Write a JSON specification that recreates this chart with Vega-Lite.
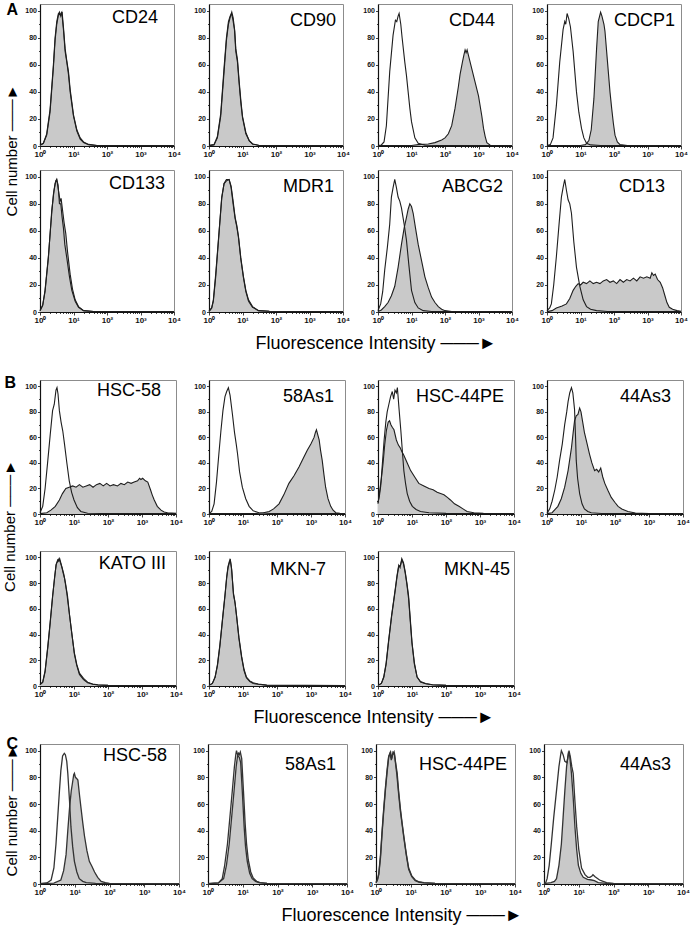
{
"$schema":"https://vega.github.io/schema/vega-lite/v6.json",
"padding":{"left":2,"top":0,"right":0,"bottom":0},
"config":{
 "view":{"stroke":"#8c8c8c","strokeWidth":1},
 "axis":{"grid":false,"domainColor":"#111","domainWidth":1.2,"tickColor":"#111","tickWidth":0.8,"labelFont":"Liberation Sans","labelFontSize":7,"labelFontWeight":"bold","labelColor":"#111","labelOverlap":false,"labelFlush":false,"labelPadding":1,"titleFont":"Liberation Sans"},
 "axisX":{"labelFontSize":8},
 "title":{"font":"Liberation Sans","fontSize":18,"fontWeight":"normal","color":"#000"}
},
"datasets":{"h":[
{"p":"a1","s":"S","x":0,"y":0.5},{"p":"a1","s":"S","x":0.1,"y":2},{"p":"a1","s":"S","x":0.2,"y":8},{"p":"a1","s":"S","x":0.3,"y":25},{"p":"a1","s":"S","x":0.4,"y":58},{"p":"a1","s":"S","x":0.45,"y":78},{"p":"a1","s":"S","x":0.5,"y":90},{"p":"a1","s":"S","x":0.55,"y":97},{"p":"a1","s":"S","x":0.58,"y":99},{"p":"a1","s":"S","x":0.62,"y":96},{"p":"a1","s":"S","x":0.66,"y":99},{"p":"a1","s":"S","x":0.7,"y":88},{"p":"a1","s":"S","x":0.75,"y":72},{"p":"a1","s":"S","x":0.8,"y":63},{"p":"a1","s":"S","x":0.85,"y":55},{"p":"a1","s":"S","x":0.9,"y":42},{"p":"a1","s":"S","x":1,"y":23},{"p":"a1","s":"S","x":1.1,"y":12},{"p":"a1","s":"S","x":1.2,"y":6},{"p":"a1","s":"S","x":1.3,"y":3},{"p":"a1","s":"S","x":1.45,"y":1.2},{"p":"a1","s":"S","x":1.7,"y":0.4},{"p":"a1","s":"S","x":4,"y":0.3},
{"p":"a1","s":"C","x":0,"y":0.5},{"p":"a1","s":"C","x":0.1,"y":2},{"p":"a1","s":"C","x":0.2,"y":9},{"p":"a1","s":"C","x":0.3,"y":27},{"p":"a1","s":"C","x":0.4,"y":60},{"p":"a1","s":"C","x":0.45,"y":80},{"p":"a1","s":"C","x":0.5,"y":92},{"p":"a1","s":"C","x":0.55,"y":98},{"p":"a1","s":"C","x":0.6,"y":97},{"p":"a1","s":"C","x":0.65,"y":99},{"p":"a1","s":"C","x":0.7,"y":86},{"p":"a1","s":"C","x":0.75,"y":70},{"p":"a1","s":"C","x":0.8,"y":62},{"p":"a1","s":"C","x":0.85,"y":53},{"p":"a1","s":"C","x":0.9,"y":40},{"p":"a1","s":"C","x":1,"y":22},{"p":"a1","s":"C","x":1.1,"y":11},{"p":"a1","s":"C","x":1.2,"y":5},{"p":"a1","s":"C","x":1.3,"y":2.5},{"p":"a1","s":"C","x":1.45,"y":1},{"p":"a1","s":"C","x":1.7,"y":0.4},{"p":"a1","s":"C","x":4,"y":0.3},
{"p":"a2","s":"S","x":0,"y":0.3},{"p":"a2","s":"S","x":0.15,"y":1},{"p":"a2","s":"S","x":0.25,"y":6},{"p":"a2","s":"S","x":0.35,"y":22},{"p":"a2","s":"S","x":0.45,"y":55},{"p":"a2","s":"S","x":0.52,"y":78},{"p":"a2","s":"S","x":0.58,"y":90},{"p":"a2","s":"S","x":0.63,"y":95},{"p":"a2","s":"S","x":0.68,"y":99},{"p":"a2","s":"S","x":0.72,"y":95},{"p":"a2","s":"S","x":0.77,"y":85},{"p":"a2","s":"S","x":0.8,"y":72},{"p":"a2","s":"S","x":0.85,"y":64},{"p":"a2","s":"S","x":0.9,"y":48},{"p":"a2","s":"S","x":0.95,"y":34},{"p":"a2","s":"S","x":1,"y":22},{"p":"a2","s":"S","x":1.1,"y":10},{"p":"a2","s":"S","x":1.2,"y":4},{"p":"a2","s":"S","x":1.3,"y":1.5},{"p":"a2","s":"S","x":1.5,"y":0.4},{"p":"a2","s":"S","x":4,"y":0.3},
{"p":"a2","s":"C","x":0,"y":0.3},{"p":"a2","s":"C","x":0.15,"y":1},{"p":"a2","s":"C","x":0.25,"y":7},{"p":"a2","s":"C","x":0.35,"y":24},{"p":"a2","s":"C","x":0.45,"y":58},{"p":"a2","s":"C","x":0.52,"y":80},{"p":"a2","s":"C","x":0.58,"y":92},{"p":"a2","s":"C","x":0.63,"y":96},{"p":"a2","s":"C","x":0.67,"y":98},{"p":"a2","s":"C","x":0.71,"y":94},{"p":"a2","s":"C","x":0.76,"y":86},{"p":"a2","s":"C","x":0.8,"y":70},{"p":"a2","s":"C","x":0.85,"y":62},{"p":"a2","s":"C","x":0.9,"y":46},{"p":"a2","s":"C","x":0.95,"y":32},{"p":"a2","s":"C","x":1,"y":21},{"p":"a2","s":"C","x":1.1,"y":9},{"p":"a2","s":"C","x":1.2,"y":4},{"p":"a2","s":"C","x":1.3,"y":1.5},{"p":"a2","s":"C","x":1.5,"y":0.4},{"p":"a2","s":"C","x":4,"y":0.3},
{"p":"a3","s":"C","x":0,"y":0.3},{"p":"a3","s":"C","x":0.1,"y":0.8},{"p":"a3","s":"C","x":0.18,"y":3},{"p":"a3","s":"C","x":0.25,"y":15},{"p":"a3","s":"C","x":0.35,"y":55},{"p":"a3","s":"C","x":0.45,"y":82},{"p":"a3","s":"C","x":0.52,"y":93},{"p":"a3","s":"C","x":0.56,"y":92},{"p":"a3","s":"C","x":0.6,"y":96},{"p":"a3","s":"C","x":0.63,"y":98},{"p":"a3","s":"C","x":0.68,"y":90},{"p":"a3","s":"C","x":0.72,"y":80},{"p":"a3","s":"C","x":0.8,"y":62},{"p":"a3","s":"C","x":0.85,"y":52},{"p":"a3","s":"C","x":0.9,"y":40},{"p":"a3","s":"C","x":0.95,"y":28},{"p":"a3","s":"C","x":1,"y":18},{"p":"a3","s":"C","x":1.1,"y":6},{"p":"a3","s":"C","x":1.2,"y":2},{"p":"a3","s":"C","x":1.4,"y":0.6},{"p":"a3","s":"C","x":1.8,"y":0.4},{"p":"a3","s":"C","x":4,"y":0.3},
{"p":"a3","s":"S","x":0,"y":0.3},{"p":"a3","s":"S","x":1,"y":0.4},{"p":"a3","s":"S","x":1.2,"y":1},{"p":"a3","s":"S","x":1.5,"y":1.5},{"p":"a3","s":"S","x":1.7,"y":2.5},{"p":"a3","s":"S","x":1.9,"y":4.5},{"p":"a3","s":"S","x":2,"y":6},{"p":"a3","s":"S","x":2.1,"y":9},{"p":"a3","s":"S","x":2.2,"y":15},{"p":"a3","s":"S","x":2.3,"y":28},{"p":"a3","s":"S","x":2.4,"y":44},{"p":"a3","s":"S","x":2.45,"y":53},{"p":"a3","s":"S","x":2.52,"y":62},{"p":"a3","s":"S","x":2.57,"y":68},{"p":"a3","s":"S","x":2.6,"y":71},{"p":"a3","s":"S","x":2.63,"y":69},{"p":"a3","s":"S","x":2.66,"y":71},{"p":"a3","s":"S","x":2.7,"y":67},{"p":"a3","s":"S","x":2.75,"y":62},{"p":"a3","s":"S","x":2.8,"y":57},{"p":"a3","s":"S","x":2.9,"y":47},{"p":"a3","s":"S","x":3,"y":37},{"p":"a3","s":"S","x":3.1,"y":22},{"p":"a3","s":"S","x":3.15,"y":13},{"p":"a3","s":"S","x":3.2,"y":7},{"p":"a3","s":"S","x":3.25,"y":2.5},{"p":"a3","s":"S","x":3.35,"y":0.6},{"p":"a3","s":"S","x":4,"y":0.3},
{"p":"a4","s":"C","x":0,"y":0.3},{"p":"a4","s":"C","x":0.1,"y":1},{"p":"a4","s":"C","x":0.18,"y":6},{"p":"a4","s":"C","x":0.28,"y":30},{"p":"a4","s":"C","x":0.38,"y":62},{"p":"a4","s":"C","x":0.48,"y":86},{"p":"a4","s":"C","x":0.53,"y":92},{"p":"a4","s":"C","x":0.56,"y":90},{"p":"a4","s":"C","x":0.6,"y":98},{"p":"a4","s":"C","x":0.65,"y":94},{"p":"a4","s":"C","x":0.7,"y":88},{"p":"a4","s":"C","x":0.78,"y":70},{"p":"a4","s":"C","x":0.83,"y":55},{"p":"a4","s":"C","x":0.88,"y":40},{"p":"a4","s":"C","x":0.95,"y":25},{"p":"a4","s":"C","x":1.03,"y":13},{"p":"a4","s":"C","x":1.1,"y":6},{"p":"a4","s":"C","x":1.18,"y":2},{"p":"a4","s":"C","x":1.3,"y":0.8},{"p":"a4","s":"C","x":1.6,"y":0.4},{"p":"a4","s":"C","x":4,"y":0.3},
{"p":"a4","s":"S","x":0,"y":0.3},{"p":"a4","s":"S","x":1,"y":0.4},{"p":"a4","s":"S","x":1.15,"y":1},{"p":"a4","s":"S","x":1.25,"y":4},{"p":"a4","s":"S","x":1.32,"y":12},{"p":"a4","s":"S","x":1.4,"y":35},{"p":"a4","s":"S","x":1.48,"y":72},{"p":"a4","s":"S","x":1.53,"y":92},{"p":"a4","s":"S","x":1.58,"y":97},{"p":"a4","s":"S","x":1.6,"y":99},{"p":"a4","s":"S","x":1.64,"y":96},{"p":"a4","s":"S","x":1.7,"y":90},{"p":"a4","s":"S","x":1.73,"y":85},{"p":"a4","s":"S","x":1.78,"y":70},{"p":"a4","s":"S","x":1.83,"y":55},{"p":"a4","s":"S","x":1.88,"y":40},{"p":"a4","s":"S","x":1.93,"y":28},{"p":"a4","s":"S","x":1.98,"y":17},{"p":"a4","s":"S","x":2.03,"y":8},{"p":"a4","s":"S","x":2.1,"y":3},{"p":"a4","s":"S","x":2.18,"y":1},{"p":"a4","s":"S","x":2.4,"y":0.4},{"p":"a4","s":"S","x":4,"y":0.3},
{"p":"a5","s":"S","x":0,"y":1},{"p":"a5","s":"S","x":0.08,"y":5},{"p":"a5","s":"S","x":0.15,"y":16},{"p":"a5","s":"S","x":0.25,"y":41},{"p":"a5","s":"S","x":0.35,"y":73},{"p":"a5","s":"S","x":0.4,"y":87},{"p":"a5","s":"S","x":0.45,"y":95},{"p":"a5","s":"S","x":0.5,"y":98},{"p":"a5","s":"S","x":0.55,"y":90},{"p":"a5","s":"S","x":0.6,"y":82},{"p":"a5","s":"S","x":0.63,"y":84},{"p":"a5","s":"S","x":0.67,"y":76},{"p":"a5","s":"S","x":0.72,"y":66},{"p":"a5","s":"S","x":0.77,"y":58},{"p":"a5","s":"S","x":0.82,"y":45},{"p":"a5","s":"S","x":0.9,"y":28},{"p":"a5","s":"S","x":0.97,"y":17},{"p":"a5","s":"S","x":1.05,"y":9},{"p":"a5","s":"S","x":1.15,"y":4},{"p":"a5","s":"S","x":1.3,"y":1},{"p":"a5","s":"S","x":1.6,"y":0.4},{"p":"a5","s":"S","x":4,"y":0.3},
{"p":"a5","s":"C","x":0,"y":1},{"p":"a5","s":"C","x":0.08,"y":5},{"p":"a5","s":"C","x":0.15,"y":15},{"p":"a5","s":"C","x":0.25,"y":40},{"p":"a5","s":"C","x":0.35,"y":75},{"p":"a5","s":"C","x":0.42,"y":90},{"p":"a5","s":"C","x":0.47,"y":97},{"p":"a5","s":"C","x":0.5,"y":98},{"p":"a5","s":"C","x":0.54,"y":94},{"p":"a5","s":"C","x":0.58,"y":80},{"p":"a5","s":"C","x":0.62,"y":80},{"p":"a5","s":"C","x":0.66,"y":70},{"p":"a5","s":"C","x":0.7,"y":62},{"p":"a5","s":"C","x":0.74,"y":50},{"p":"a5","s":"C","x":0.8,"y":40},{"p":"a5","s":"C","x":0.88,"y":26},{"p":"a5","s":"C","x":0.95,"y":16},{"p":"a5","s":"C","x":1.05,"y":8},{"p":"a5","s":"C","x":1.15,"y":3.5},{"p":"a5","s":"C","x":1.3,"y":1},{"p":"a5","s":"C","x":1.6,"y":0.4},{"p":"a5","s":"C","x":4,"y":0.3},
{"p":"a6","s":"S","x":0,"y":0.5},{"p":"a6","s":"S","x":0.08,"y":3},{"p":"a6","s":"S","x":0.13,"y":9},{"p":"a6","s":"S","x":0.2,"y":28},{"p":"a6","s":"S","x":0.28,"y":53},{"p":"a6","s":"S","x":0.38,"y":85},{"p":"a6","s":"S","x":0.45,"y":95},{"p":"a6","s":"S","x":0.52,"y":98},{"p":"a6","s":"S","x":0.6,"y":98},{"p":"a6","s":"S","x":0.66,"y":93},{"p":"a6","s":"S","x":0.72,"y":82},{"p":"a6","s":"S","x":0.78,"y":70},{"p":"a6","s":"S","x":0.83,"y":64},{"p":"a6","s":"S","x":0.88,"y":56},{"p":"a6","s":"S","x":0.95,"y":40},{"p":"a6","s":"S","x":1.03,"y":26},{"p":"a6","s":"S","x":1.1,"y":16},{"p":"a6","s":"S","x":1.18,"y":9},{"p":"a6","s":"S","x":1.3,"y":4},{"p":"a6","s":"S","x":1.48,"y":1},{"p":"a6","s":"S","x":1.8,"y":0.5},{"p":"a6","s":"S","x":4,"y":0.3},
{"p":"a6","s":"C","x":0,"y":0.5},{"p":"a6","s":"C","x":0.08,"y":3},{"p":"a6","s":"C","x":0.13,"y":8},{"p":"a6","s":"C","x":0.2,"y":26},{"p":"a6","s":"C","x":0.28,"y":52},{"p":"a6","s":"C","x":0.38,"y":84},{"p":"a6","s":"C","x":0.45,"y":95},{"p":"a6","s":"C","x":0.52,"y":97},{"p":"a6","s":"C","x":0.6,"y":98},{"p":"a6","s":"C","x":0.66,"y":92},{"p":"a6","s":"C","x":0.72,"y":80},{"p":"a6","s":"C","x":0.78,"y":69},{"p":"a6","s":"C","x":0.83,"y":63},{"p":"a6","s":"C","x":0.88,"y":55},{"p":"a6","s":"C","x":0.95,"y":39},{"p":"a6","s":"C","x":1.03,"y":25},{"p":"a6","s":"C","x":1.1,"y":15},{"p":"a6","s":"C","x":1.18,"y":8},{"p":"a6","s":"C","x":1.3,"y":3.5},{"p":"a6","s":"C","x":1.48,"y":1},{"p":"a6","s":"C","x":1.8,"y":0.5},{"p":"a6","s":"C","x":4,"y":0.3},
{"p":"a7","s":"C","x":0,"y":1},{"p":"a7","s":"C","x":0.08,"y":6},{"p":"a7","s":"C","x":0.14,"y":15},{"p":"a7","s":"C","x":0.2,"y":31},{"p":"a7","s":"C","x":0.28,"y":48},{"p":"a7","s":"C","x":0.35,"y":65},{"p":"a7","s":"C","x":0.4,"y":85},{"p":"a7","s":"C","x":0.45,"y":92},{"p":"a7","s":"C","x":0.5,"y":98},{"p":"a7","s":"C","x":0.55,"y":92},{"p":"a7","s":"C","x":0.6,"y":85},{"p":"a7","s":"C","x":0.65,"y":82},{"p":"a7","s":"C","x":0.7,"y":77},{"p":"a7","s":"C","x":0.78,"y":65},{"p":"a7","s":"C","x":0.85,"y":53},{"p":"a7","s":"C","x":0.92,"y":35},{"p":"a7","s":"C","x":1,"y":16},{"p":"a7","s":"C","x":1.1,"y":7},{"p":"a7","s":"C","x":1.2,"y":3},{"p":"a7","s":"C","x":1.35,"y":1},{"p":"a7","s":"C","x":1.6,"y":0.4},{"p":"a7","s":"C","x":4,"y":0.3},
{"p":"a7","s":"S","x":0,"y":0.3},{"p":"a7","s":"S","x":0.1,"y":1.5},{"p":"a7","s":"S","x":0.2,"y":4},{"p":"a7","s":"S","x":0.3,"y":7},{"p":"a7","s":"S","x":0.4,"y":12},{"p":"a7","s":"S","x":0.5,"y":19},{"p":"a7","s":"S","x":0.6,"y":33},{"p":"a7","s":"S","x":0.7,"y":50},{"p":"a7","s":"S","x":0.78,"y":62},{"p":"a7","s":"S","x":0.85,"y":70},{"p":"a7","s":"S","x":0.9,"y":76},{"p":"a7","s":"S","x":0.95,"y":80},{"p":"a7","s":"S","x":1,"y":78},{"p":"a7","s":"S","x":1.05,"y":73},{"p":"a7","s":"S","x":1.12,"y":62},{"p":"a7","s":"S","x":1.2,"y":50},{"p":"a7","s":"S","x":1.3,"y":38},{"p":"a7","s":"S","x":1.4,"y":26},{"p":"a7","s":"S","x":1.5,"y":18},{"p":"a7","s":"S","x":1.6,"y":11},{"p":"a7","s":"S","x":1.7,"y":7},{"p":"a7","s":"S","x":1.8,"y":4},{"p":"a7","s":"S","x":1.9,"y":2},{"p":"a7","s":"S","x":2,"y":1},{"p":"a7","s":"S","x":2.2,"y":0.4},{"p":"a7","s":"S","x":4,"y":0.3},
{"p":"a8","s":"C","x":0,"y":1},{"p":"a8","s":"C","x":0.08,"y":3},{"p":"a8","s":"C","x":0.13,"y":6},{"p":"a8","s":"C","x":0.2,"y":20},{"p":"a8","s":"C","x":0.28,"y":41},{"p":"a8","s":"C","x":0.36,"y":65},{"p":"a8","s":"C","x":0.43,"y":85},{"p":"a8","s":"C","x":0.48,"y":92},{"p":"a8","s":"C","x":0.53,"y":98},{"p":"a8","s":"C","x":0.58,"y":90},{"p":"a8","s":"C","x":0.63,"y":83},{"p":"a8","s":"C","x":0.68,"y":80},{"p":"a8","s":"C","x":0.73,"y":73},{"p":"a8","s":"C","x":0.8,"y":52},{"p":"a8","s":"C","x":0.88,"y":33},{"p":"a8","s":"C","x":0.98,"y":19},{"p":"a8","s":"C","x":1.08,"y":9},{"p":"a8","s":"C","x":1.18,"y":4},{"p":"a8","s":"C","x":1.3,"y":2},{"p":"a8","s":"C","x":1.48,"y":1},{"p":"a8","s":"C","x":1.8,"y":0.4},{"p":"a8","s":"C","x":4,"y":0.3},
{"p":"a8","s":"S","x":0,"y":0.3},{"p":"a8","s":"S","x":0.15,"y":1},{"p":"a8","s":"S","x":0.28,"y":3},{"p":"a8","s":"S","x":0.45,"y":4.5},{"p":"a8","s":"S","x":0.58,"y":6},{"p":"a8","s":"S","x":0.68,"y":10},{"p":"a8","s":"S","x":0.78,"y":16},{"p":"a8","s":"S","x":0.86,"y":19},{"p":"a8","s":"S","x":0.93,"y":21},{"p":"a8","s":"S","x":1,"y":20},{"p":"a8","s":"S","x":1.08,"y":22},{"p":"a8","s":"S","x":1.18,"y":21},{"p":"a8","s":"S","x":1.28,"y":23},{"p":"a8","s":"S","x":1.38,"y":21},{"p":"a8","s":"S","x":1.48,"y":22},{"p":"a8","s":"S","x":1.58,"y":21},{"p":"a8","s":"S","x":1.68,"y":23},{"p":"a8","s":"S","x":1.78,"y":24},{"p":"a8","s":"S","x":1.88,"y":22},{"p":"a8","s":"S","x":1.98,"y":23},{"p":"a8","s":"S","x":2.08,"y":21},{"p":"a8","s":"S","x":2.18,"y":24},{"p":"a8","s":"S","x":2.28,"y":22},{"p":"a8","s":"S","x":2.38,"y":24},{"p":"a8","s":"S","x":2.48,"y":23},{"p":"a8","s":"S","x":2.58,"y":25},{"p":"a8","s":"S","x":2.68,"y":23},{"p":"a8","s":"S","x":2.78,"y":26},{"p":"a8","s":"S","x":2.88,"y":25},{"p":"a8","s":"S","x":2.98,"y":26},{"p":"a8","s":"S","x":3.08,"y":25},{"p":"a8","s":"S","x":3.13,"y":29},{"p":"a8","s":"S","x":3.18,"y":27},{"p":"a8","s":"S","x":3.23,"y":28},{"p":"a8","s":"S","x":3.3,"y":24},{"p":"a8","s":"S","x":3.38,"y":22},{"p":"a8","s":"S","x":3.45,"y":18},{"p":"a8","s":"S","x":3.52,"y":12},{"p":"a8","s":"S","x":3.58,"y":7},{"p":"a8","s":"S","x":3.65,"y":3.5},{"p":"a8","s":"S","x":3.75,"y":2},{"p":"a8","s":"S","x":3.88,"y":1},{"p":"a8","s":"S","x":4,"y":0.5},
{"p":"b1","s":"C","x":0,"y":1},{"p":"b1","s":"C","x":0.08,"y":6},{"p":"b1","s":"C","x":0.15,"y":20},{"p":"b1","s":"C","x":0.23,"y":42},{"p":"b1","s":"C","x":0.3,"y":62},{"p":"b1","s":"C","x":0.37,"y":81},{"p":"b1","s":"C","x":0.42,"y":86},{"p":"b1","s":"C","x":0.47,"y":97},{"p":"b1","s":"C","x":0.5,"y":99},{"p":"b1","s":"C","x":0.53,"y":94},{"p":"b1","s":"C","x":0.57,"y":81},{"p":"b1","s":"C","x":0.62,"y":72},{"p":"b1","s":"C","x":0.67,"y":65},{"p":"b1","s":"C","x":0.72,"y":55},{"p":"b1","s":"C","x":0.79,"y":40},{"p":"b1","s":"C","x":0.86,"y":26},{"p":"b1","s":"C","x":0.93,"y":17},{"p":"b1","s":"C","x":1,"y":11},{"p":"b1","s":"C","x":1.1,"y":5},{"p":"b1","s":"C","x":1.2,"y":2},{"p":"b1","s":"C","x":1.4,"y":0.6},{"p":"b1","s":"C","x":1.8,"y":0.4},{"p":"b1","s":"C","x":4,"y":0.3},
{"p":"b1","s":"S","x":0,"y":0.3},{"p":"b1","s":"S","x":0.2,"y":1},{"p":"b1","s":"S","x":0.32,"y":3},{"p":"b1","s":"S","x":0.45,"y":6},{"p":"b1","s":"S","x":0.57,"y":11},{"p":"b1","s":"S","x":0.66,"y":16},{"p":"b1","s":"S","x":0.76,"y":20},{"p":"b1","s":"S","x":0.86,"y":21},{"p":"b1","s":"S","x":0.96,"y":22},{"p":"b1","s":"S","x":1.06,"y":21},{"p":"b1","s":"S","x":1.16,"y":23},{"p":"b1","s":"S","x":1.26,"y":21},{"p":"b1","s":"S","x":1.36,"y":22},{"p":"b1","s":"S","x":1.46,"y":23},{"p":"b1","s":"S","x":1.56,"y":21},{"p":"b1","s":"S","x":1.66,"y":23},{"p":"b1","s":"S","x":1.76,"y":24},{"p":"b1","s":"S","x":1.86,"y":22},{"p":"b1","s":"S","x":1.96,"y":24},{"p":"b1","s":"S","x":2.06,"y":22},{"p":"b1","s":"S","x":2.16,"y":23},{"p":"b1","s":"S","x":2.28,"y":22},{"p":"b1","s":"S","x":2.38,"y":24},{"p":"b1","s":"S","x":2.48,"y":23},{"p":"b1","s":"S","x":2.58,"y":25},{"p":"b1","s":"S","x":2.68,"y":24},{"p":"b1","s":"S","x":2.77,"y":25},{"p":"b1","s":"S","x":2.87,"y":26},{"p":"b1","s":"S","x":2.93,"y":28},{"p":"b1","s":"S","x":2.97,"y":27},{"p":"b1","s":"S","x":3.02,"y":28},{"p":"b1","s":"S","x":3.1,"y":26},{"p":"b1","s":"S","x":3.17,"y":25},{"p":"b1","s":"S","x":3.25,"y":19},{"p":"b1","s":"S","x":3.3,"y":15},{"p":"b1","s":"S","x":3.36,"y":11},{"p":"b1","s":"S","x":3.45,"y":6},{"p":"b1","s":"S","x":3.56,"y":3},{"p":"b1","s":"S","x":3.65,"y":1.5},{"p":"b1","s":"S","x":3.75,"y":1},{"p":"b1","s":"S","x":4,"y":0.5},
{"p":"b2","s":"C","x":0,"y":0.3},{"p":"b2","s":"C","x":0.08,"y":2},{"p":"b2","s":"C","x":0.15,"y":8},{"p":"b2","s":"C","x":0.22,"y":25},{"p":"b2","s":"C","x":0.29,"y":47},{"p":"b2","s":"C","x":0.35,"y":65},{"p":"b2","s":"C","x":0.41,"y":81},{"p":"b2","s":"C","x":0.47,"y":92},{"p":"b2","s":"C","x":0.52,"y":96},{"p":"b2","s":"C","x":0.57,"y":99},{"p":"b2","s":"C","x":0.62,"y":93},{"p":"b2","s":"C","x":0.69,"y":78},{"p":"b2","s":"C","x":0.75,"y":64},{"p":"b2","s":"C","x":0.8,"y":55},{"p":"b2","s":"C","x":0.84,"y":47},{"p":"b2","s":"C","x":0.9,"y":33},{"p":"b2","s":"C","x":0.98,"y":21},{"p":"b2","s":"C","x":1.08,"y":12},{"p":"b2","s":"C","x":1.18,"y":6},{"p":"b2","s":"C","x":1.3,"y":2.5},{"p":"b2","s":"C","x":1.47,"y":1},{"p":"b2","s":"C","x":1.8,"y":0.4},{"p":"b2","s":"C","x":4,"y":0.3},
{"p":"b2","s":"S","x":0,"y":0.3},{"p":"b2","s":"S","x":1.4,"y":0.4},{"p":"b2","s":"S","x":1.6,"y":1},{"p":"b2","s":"S","x":1.77,"y":2},{"p":"b2","s":"S","x":1.9,"y":4},{"p":"b2","s":"S","x":2.06,"y":8},{"p":"b2","s":"S","x":2.2,"y":15},{"p":"b2","s":"S","x":2.35,"y":24},{"p":"b2","s":"S","x":2.5,"y":30},{"p":"b2","s":"S","x":2.65,"y":37},{"p":"b2","s":"S","x":2.78,"y":44},{"p":"b2","s":"S","x":2.89,"y":50},{"p":"b2","s":"S","x":3,"y":55},{"p":"b2","s":"S","x":3.09,"y":60},{"p":"b2","s":"S","x":3.13,"y":64},{"p":"b2","s":"S","x":3.16,"y":66},{"p":"b2","s":"S","x":3.2,"y":62},{"p":"b2","s":"S","x":3.24,"y":58},{"p":"b2","s":"S","x":3.28,"y":50},{"p":"b2","s":"S","x":3.33,"y":42},{"p":"b2","s":"S","x":3.38,"y":31},{"p":"b2","s":"S","x":3.43,"y":21},{"p":"b2","s":"S","x":3.5,"y":12},{"p":"b2","s":"S","x":3.58,"y":6},{"p":"b2","s":"S","x":3.65,"y":3},{"p":"b2","s":"S","x":3.73,"y":1},{"p":"b2","s":"S","x":3.85,"y":0.5},{"p":"b2","s":"S","x":4,"y":0.3},
{"p":"b3","s":"C","x":0,"y":9},{"p":"b3","s":"C","x":0.04,"y":14},{"p":"b3","s":"C","x":0.08,"y":22},{"p":"b3","s":"C","x":0.13,"y":40},{"p":"b3","s":"C","x":0.18,"y":58},{"p":"b3","s":"C","x":0.23,"y":72},{"p":"b3","s":"C","x":0.27,"y":80},{"p":"b3","s":"C","x":0.32,"y":86},{"p":"b3","s":"C","x":0.37,"y":92},{"p":"b3","s":"C","x":0.42,"y":96},{"p":"b3","s":"C","x":0.46,"y":90},{"p":"b3","s":"C","x":0.5,"y":97},{"p":"b3","s":"C","x":0.54,"y":95},{"p":"b3","s":"C","x":0.57,"y":99},{"p":"b3","s":"C","x":0.62,"y":82},{"p":"b3","s":"C","x":0.67,"y":66},{"p":"b3","s":"C","x":0.72,"y":48},{"p":"b3","s":"C","x":0.76,"y":34},{"p":"b3","s":"C","x":0.81,"y":24},{"p":"b3","s":"C","x":0.86,"y":16},{"p":"b3","s":"C","x":0.93,"y":10},{"p":"b3","s":"C","x":1.01,"y":6},{"p":"b3","s":"C","x":1.12,"y":3.5},{"p":"b3","s":"C","x":1.25,"y":2},{"p":"b3","s":"C","x":1.5,"y":1},{"p":"b3","s":"C","x":2,"y":0.5},{"p":"b3","s":"C","x":4,"y":0.3},
{"p":"b3","s":"S","x":0,"y":8},{"p":"b3","s":"S","x":0.05,"y":18},{"p":"b3","s":"S","x":0.1,"y":28},{"p":"b3","s":"S","x":0.15,"y":40},{"p":"b3","s":"S","x":0.2,"y":55},{"p":"b3","s":"S","x":0.25,"y":66},{"p":"b3","s":"S","x":0.3,"y":72},{"p":"b3","s":"S","x":0.34,"y":73},{"p":"b3","s":"S","x":0.38,"y":70},{"p":"b3","s":"S","x":0.42,"y":68},{"p":"b3","s":"S","x":0.47,"y":66},{"p":"b3","s":"S","x":0.54,"y":58},{"p":"b3","s":"S","x":0.6,"y":54},{"p":"b3","s":"S","x":0.65,"y":52},{"p":"b3","s":"S","x":0.7,"y":49},{"p":"b3","s":"S","x":0.76,"y":46},{"p":"b3","s":"S","x":0.86,"y":40},{"p":"b3","s":"S","x":0.96,"y":34},{"p":"b3","s":"S","x":1.08,"y":29},{"p":"b3","s":"S","x":1.2,"y":24},{"p":"b3","s":"S","x":1.35,"y":22},{"p":"b3","s":"S","x":1.5,"y":20},{"p":"b3","s":"S","x":1.62,"y":19},{"p":"b3","s":"S","x":1.74,"y":17},{"p":"b3","s":"S","x":1.84,"y":16},{"p":"b3","s":"S","x":1.94,"y":15},{"p":"b3","s":"S","x":2.04,"y":13},{"p":"b3","s":"S","x":2.13,"y":11},{"p":"b3","s":"S","x":2.25,"y":8},{"p":"b3","s":"S","x":2.38,"y":6},{"p":"b3","s":"S","x":2.5,"y":4},{"p":"b3","s":"S","x":2.62,"y":2},{"p":"b3","s":"S","x":2.82,"y":1},{"p":"b3","s":"S","x":3.1,"y":0.5},{"p":"b3","s":"S","x":4,"y":0.3},
{"p":"b4","s":"C","x":0,"y":0.5},{"p":"b4","s":"C","x":0.08,"y":4},{"p":"b4","s":"C","x":0.15,"y":10},{"p":"b4","s":"C","x":0.23,"y":19},{"p":"b4","s":"C","x":0.3,"y":29},{"p":"b4","s":"C","x":0.37,"y":42},{"p":"b4","s":"C","x":0.45,"y":55},{"p":"b4","s":"C","x":0.52,"y":70},{"p":"b4","s":"C","x":0.58,"y":80},{"p":"b4","s":"C","x":0.62,"y":88},{"p":"b4","s":"C","x":0.67,"y":95},{"p":"b4","s":"C","x":0.72,"y":99},{"p":"b4","s":"C","x":0.76,"y":95},{"p":"b4","s":"C","x":0.81,"y":82},{"p":"b4","s":"C","x":0.84,"y":60},{"p":"b4","s":"C","x":0.86,"y":42},{"p":"b4","s":"C","x":0.9,"y":28},{"p":"b4","s":"C","x":0.96,"y":16},{"p":"b4","s":"C","x":1.03,"y":8},{"p":"b4","s":"C","x":1.1,"y":4},{"p":"b4","s":"C","x":1.2,"y":2},{"p":"b4","s":"C","x":1.3,"y":1},{"p":"b4","s":"C","x":1.6,"y":0.4},{"p":"b4","s":"C","x":4,"y":0.3},
{"p":"b4","s":"S","x":0,"y":0.3},{"p":"b4","s":"S","x":0.15,"y":1},{"p":"b4","s":"S","x":0.32,"y":6},{"p":"b4","s":"S","x":0.42,"y":12},{"p":"b4","s":"S","x":0.52,"y":21},{"p":"b4","s":"S","x":0.62,"y":34},{"p":"b4","s":"S","x":0.72,"y":52},{"p":"b4","s":"S","x":0.77,"y":64},{"p":"b4","s":"S","x":0.81,"y":73},{"p":"b4","s":"S","x":0.86,"y":77},{"p":"b4","s":"S","x":0.91,"y":78},{"p":"b4","s":"S","x":0.96,"y":83},{"p":"b4","s":"S","x":1,"y":80},{"p":"b4","s":"S","x":1.05,"y":72},{"p":"b4","s":"S","x":1.1,"y":64},{"p":"b4","s":"S","x":1.18,"y":55},{"p":"b4","s":"S","x":1.25,"y":47},{"p":"b4","s":"S","x":1.32,"y":40},{"p":"b4","s":"S","x":1.4,"y":34},{"p":"b4","s":"S","x":1.46,"y":35},{"p":"b4","s":"S","x":1.52,"y":33},{"p":"b4","s":"S","x":1.58,"y":36},{"p":"b4","s":"S","x":1.64,"y":29},{"p":"b4","s":"S","x":1.7,"y":24},{"p":"b4","s":"S","x":1.8,"y":18},{"p":"b4","s":"S","x":1.89,"y":13},{"p":"b4","s":"S","x":2,"y":9},{"p":"b4","s":"S","x":2.09,"y":6},{"p":"b4","s":"S","x":2.2,"y":4},{"p":"b4","s":"S","x":2.38,"y":2},{"p":"b4","s":"S","x":2.6,"y":0.8},{"p":"b4","s":"S","x":3,"y":0.4},{"p":"b4","s":"S","x":4,"y":0.3},
{"p":"b5","s":"S","x":0,"y":1},{"p":"b5","s":"S","x":0.08,"y":3},{"p":"b5","s":"S","x":0.15,"y":12},{"p":"b5","s":"S","x":0.23,"y":31},{"p":"b5","s":"S","x":0.3,"y":50},{"p":"b5","s":"S","x":0.37,"y":70},{"p":"b5","s":"S","x":0.43,"y":84},{"p":"b5","s":"S","x":0.47,"y":94},{"p":"b5","s":"S","x":0.52,"y":98},{"p":"b5","s":"S","x":0.55,"y":97},{"p":"b5","s":"S","x":0.58,"y":99},{"p":"b5","s":"S","x":0.63,"y":94},{"p":"b5","s":"S","x":0.68,"y":88},{"p":"b5","s":"S","x":0.72,"y":84},{"p":"b5","s":"S","x":0.79,"y":72},{"p":"b5","s":"S","x":0.86,"y":57},{"p":"b5","s":"S","x":0.93,"y":42},{"p":"b5","s":"S","x":1.01,"y":26},{"p":"b5","s":"S","x":1.08,"y":17},{"p":"b5","s":"S","x":1.16,"y":10},{"p":"b5","s":"S","x":1.28,"y":6},{"p":"b5","s":"S","x":1.4,"y":3},{"p":"b5","s":"S","x":1.55,"y":1.5},{"p":"b5","s":"S","x":1.7,"y":1},{"p":"b5","s":"S","x":2,"y":0.5},{"p":"b5","s":"S","x":4,"y":0.3},
{"p":"b5","s":"C","x":0,"y":1},{"p":"b5","s":"C","x":0.08,"y":3},{"p":"b5","s":"C","x":0.15,"y":11},{"p":"b5","s":"C","x":0.23,"y":30},{"p":"b5","s":"C","x":0.3,"y":49},{"p":"b5","s":"C","x":0.37,"y":69},{"p":"b5","s":"C","x":0.43,"y":85},{"p":"b5","s":"C","x":0.48,"y":95},{"p":"b5","s":"C","x":0.52,"y":97},{"p":"b5","s":"C","x":0.56,"y":99},{"p":"b5","s":"C","x":0.6,"y":96},{"p":"b5","s":"C","x":0.65,"y":92},{"p":"b5","s":"C","x":0.7,"y":87},{"p":"b5","s":"C","x":0.75,"y":80},{"p":"b5","s":"C","x":0.81,"y":70},{"p":"b5","s":"C","x":0.87,"y":55},{"p":"b5","s":"C","x":0.94,"y":40},{"p":"b5","s":"C","x":1.01,"y":25},{"p":"b5","s":"C","x":1.08,"y":16},{"p":"b5","s":"C","x":1.16,"y":9},{"p":"b5","s":"C","x":1.28,"y":5},{"p":"b5","s":"C","x":1.4,"y":2.5},{"p":"b5","s":"C","x":1.55,"y":1.3},{"p":"b5","s":"C","x":1.7,"y":0.8},{"p":"b5","s":"C","x":2,"y":0.5},{"p":"b5","s":"C","x":4,"y":0.3},
{"p":"b6","s":"S","x":0,"y":0.5},{"p":"b6","s":"S","x":0.1,"y":2},{"p":"b6","s":"S","x":0.18,"y":7},{"p":"b6","s":"S","x":0.25,"y":16},{"p":"b6","s":"S","x":0.32,"y":31},{"p":"b6","s":"S","x":0.4,"y":52},{"p":"b6","s":"S","x":0.47,"y":70},{"p":"b6","s":"S","x":0.52,"y":84},{"p":"b6","s":"S","x":0.56,"y":92},{"p":"b6","s":"S","x":0.6,"y":96},{"p":"b6","s":"S","x":0.62,"y":99},{"p":"b6","s":"S","x":0.66,"y":92},{"p":"b6","s":"S","x":0.72,"y":72},{"p":"b6","s":"S","x":0.76,"y":66},{"p":"b6","s":"S","x":0.81,"y":55},{"p":"b6","s":"S","x":0.88,"y":38},{"p":"b6","s":"S","x":0.96,"y":23},{"p":"b6","s":"S","x":1.03,"y":13},{"p":"b6","s":"S","x":1.1,"y":7},{"p":"b6","s":"S","x":1.2,"y":4},{"p":"b6","s":"S","x":1.3,"y":2.5},{"p":"b6","s":"S","x":1.45,"y":1.5},{"p":"b6","s":"S","x":1.7,"y":0.7},{"p":"b6","s":"S","x":4,"y":0.3},
{"p":"b6","s":"C","x":0,"y":0.5},{"p":"b6","s":"C","x":0.1,"y":2},{"p":"b6","s":"C","x":0.18,"y":7},{"p":"b6","s":"C","x":0.25,"y":17},{"p":"b6","s":"C","x":0.32,"y":32},{"p":"b6","s":"C","x":0.4,"y":53},{"p":"b6","s":"C","x":0.47,"y":71},{"p":"b6","s":"C","x":0.52,"y":85},{"p":"b6","s":"C","x":0.56,"y":93},{"p":"b6","s":"C","x":0.6,"y":97},{"p":"b6","s":"C","x":0.63,"y":98},{"p":"b6","s":"C","x":0.67,"y":90},{"p":"b6","s":"C","x":0.72,"y":71},{"p":"b6","s":"C","x":0.77,"y":64},{"p":"b6","s":"C","x":0.82,"y":52},{"p":"b6","s":"C","x":0.88,"y":37},{"p":"b6","s":"C","x":0.96,"y":22},{"p":"b6","s":"C","x":1.03,"y":12},{"p":"b6","s":"C","x":1.1,"y":6.5},{"p":"b6","s":"C","x":1.2,"y":3.5},{"p":"b6","s":"C","x":1.3,"y":2},{"p":"b6","s":"C","x":1.45,"y":1.3},{"p":"b6","s":"C","x":1.7,"y":0.6},{"p":"b6","s":"C","x":4,"y":0.3},
{"p":"b7","s":"S","x":0,"y":0.5},{"p":"b7","s":"S","x":0.1,"y":2},{"p":"b7","s":"S","x":0.17,"y":7},{"p":"b7","s":"S","x":0.24,"y":18},{"p":"b7","s":"S","x":0.31,"y":35},{"p":"b7","s":"S","x":0.4,"y":55},{"p":"b7","s":"S","x":0.51,"y":76},{"p":"b7","s":"S","x":0.56,"y":86},{"p":"b7","s":"S","x":0.61,"y":94},{"p":"b7","s":"S","x":0.65,"y":92},{"p":"b7","s":"S","x":0.7,"y":99},{"p":"b7","s":"S","x":0.75,"y":96},{"p":"b7","s":"S","x":0.8,"y":89},{"p":"b7","s":"S","x":0.85,"y":80},{"p":"b7","s":"S","x":0.9,"y":70},{"p":"b7","s":"S","x":0.95,"y":52},{"p":"b7","s":"S","x":1,"y":34},{"p":"b7","s":"S","x":1.07,"y":18},{"p":"b7","s":"S","x":1.15,"y":7},{"p":"b7","s":"S","x":1.25,"y":3.5},{"p":"b7","s":"S","x":1.4,"y":2},{"p":"b7","s":"S","x":1.6,"y":1},{"p":"b7","s":"S","x":2,"y":0.5},{"p":"b7","s":"S","x":4,"y":0.3},
{"p":"b7","s":"C","x":0,"y":0.5},{"p":"b7","s":"C","x":0.1,"y":2},{"p":"b7","s":"C","x":0.17,"y":7},{"p":"b7","s":"C","x":0.24,"y":17},{"p":"b7","s":"C","x":0.31,"y":34},{"p":"b7","s":"C","x":0.4,"y":54},{"p":"b7","s":"C","x":0.51,"y":75},{"p":"b7","s":"C","x":0.56,"y":85},{"p":"b7","s":"C","x":0.61,"y":93},{"p":"b7","s":"C","x":0.66,"y":94},{"p":"b7","s":"C","x":0.7,"y":98},{"p":"b7","s":"C","x":0.75,"y":95},{"p":"b7","s":"C","x":0.8,"y":88},{"p":"b7","s":"C","x":0.85,"y":79},{"p":"b7","s":"C","x":0.9,"y":68},{"p":"b7","s":"C","x":0.95,"y":50},{"p":"b7","s":"C","x":1,"y":33},{"p":"b7","s":"C","x":1.07,"y":17},{"p":"b7","s":"C","x":1.15,"y":7},{"p":"b7","s":"C","x":1.25,"y":3},{"p":"b7","s":"C","x":1.4,"y":1.8},{"p":"b7","s":"C","x":1.6,"y":1},{"p":"b7","s":"C","x":2,"y":0.5},{"p":"b7","s":"C","x":4,"y":0.3},
{"p":"c1","s":"C","x":0,"y":0.3},{"p":"c1","s":"C","x":0.2,"y":0.8},{"p":"c1","s":"C","x":0.32,"y":3},{"p":"c1","s":"C","x":0.4,"y":12},{"p":"c1","s":"C","x":0.46,"y":30},{"p":"c1","s":"C","x":0.51,"y":50},{"p":"c1","s":"C","x":0.56,"y":70},{"p":"c1","s":"C","x":0.6,"y":85},{"p":"c1","s":"C","x":0.65,"y":96},{"p":"c1","s":"C","x":0.7,"y":98},{"p":"c1","s":"C","x":0.73,"y":97},{"p":"c1","s":"C","x":0.77,"y":92},{"p":"c1","s":"C","x":0.8,"y":83},{"p":"c1","s":"C","x":0.85,"y":62},{"p":"c1","s":"C","x":0.89,"y":43},{"p":"c1","s":"C","x":0.94,"y":28},{"p":"c1","s":"C","x":0.99,"y":17},{"p":"c1","s":"C","x":1.06,"y":9},{"p":"c1","s":"C","x":1.13,"y":4},{"p":"c1","s":"C","x":1.23,"y":2},{"p":"c1","s":"C","x":1.33,"y":1},{"p":"c1","s":"C","x":1.6,"y":0.5},{"p":"c1","s":"C","x":4,"y":0.3},
{"p":"c1","s":"S","x":0,"y":0.3},{"p":"c1","s":"S","x":0.4,"y":0.6},{"p":"c1","s":"S","x":0.6,"y":3},{"p":"c1","s":"S","x":0.68,"y":10},{"p":"c1","s":"S","x":0.75,"y":22},{"p":"c1","s":"S","x":0.8,"y":40},{"p":"c1","s":"S","x":0.85,"y":57},{"p":"c1","s":"S","x":0.9,"y":70},{"p":"c1","s":"S","x":0.93,"y":75},{"p":"c1","s":"S","x":0.97,"y":82},{"p":"c1","s":"S","x":0.99,"y":83},{"p":"c1","s":"S","x":1.02,"y":80},{"p":"c1","s":"S","x":1.06,"y":79},{"p":"c1","s":"S","x":1.09,"y":78},{"p":"c1","s":"S","x":1.14,"y":66},{"p":"c1","s":"S","x":1.18,"y":57},{"p":"c1","s":"S","x":1.23,"y":46},{"p":"c1","s":"S","x":1.28,"y":36},{"p":"c1","s":"S","x":1.35,"y":25},{"p":"c1","s":"S","x":1.42,"y":17},{"p":"c1","s":"S","x":1.5,"y":13},{"p":"c1","s":"S","x":1.57,"y":9},{"p":"c1","s":"S","x":1.66,"y":5},{"p":"c1","s":"S","x":1.76,"y":2},{"p":"c1","s":"S","x":1.88,"y":1},{"p":"c1","s":"S","x":2,"y":0.5},{"p":"c1","s":"S","x":4,"y":0.3},
{"p":"c2","s":"C","x":0,"y":0.3},{"p":"c2","s":"C","x":0.3,"y":0.8},{"p":"c2","s":"C","x":0.41,"y":4},{"p":"c2","s":"C","x":0.48,"y":14},{"p":"c2","s":"C","x":0.56,"y":30},{"p":"c2","s":"C","x":0.63,"y":50},{"p":"c2","s":"C","x":0.7,"y":70},{"p":"c2","s":"C","x":0.76,"y":88},{"p":"c2","s":"C","x":0.8,"y":97},{"p":"c2","s":"C","x":0.82,"y":100},{"p":"c2","s":"C","x":0.86,"y":96},{"p":"c2","s":"C","x":0.9,"y":95},{"p":"c2","s":"C","x":0.94,"y":91},{"p":"c2","s":"C","x":0.99,"y":68},{"p":"c2","s":"C","x":1.04,"y":43},{"p":"c2","s":"C","x":1.08,"y":28},{"p":"c2","s":"C","x":1.13,"y":17},{"p":"c2","s":"C","x":1.2,"y":8},{"p":"c2","s":"C","x":1.27,"y":4},{"p":"c2","s":"C","x":1.37,"y":2},{"p":"c2","s":"C","x":1.47,"y":1},{"p":"c2","s":"C","x":1.7,"y":0.5},{"p":"c2","s":"C","x":4,"y":0.3},
{"p":"c2","s":"S","x":0,"y":0.3},{"p":"c2","s":"S","x":0.3,"y":0.8},{"p":"c2","s":"S","x":0.45,"y":4},{"p":"c2","s":"S","x":0.53,"y":14},{"p":"c2","s":"S","x":0.61,"y":30},{"p":"c2","s":"S","x":0.68,"y":50},{"p":"c2","s":"S","x":0.75,"y":70},{"p":"c2","s":"S","x":0.81,"y":88},{"p":"c2","s":"S","x":0.85,"y":96},{"p":"c2","s":"S","x":0.88,"y":98},{"p":"c2","s":"S","x":0.9,"y":97},{"p":"c2","s":"S","x":0.93,"y":99},{"p":"c2","s":"S","x":0.97,"y":94},{"p":"c2","s":"S","x":1.02,"y":70},{"p":"c2","s":"S","x":1.07,"y":45},{"p":"c2","s":"S","x":1.11,"y":30},{"p":"c2","s":"S","x":1.16,"y":18},{"p":"c2","s":"S","x":1.23,"y":9},{"p":"c2","s":"S","x":1.3,"y":4.5},{"p":"c2","s":"S","x":1.4,"y":2},{"p":"c2","s":"S","x":1.5,"y":1},{"p":"c2","s":"S","x":1.7,"y":0.5},{"p":"c2","s":"S","x":4,"y":0.3},
{"p":"c3","s":"S","x":0,"y":1},{"p":"c3","s":"S","x":0.04,"y":3},{"p":"c3","s":"S","x":0.08,"y":7},{"p":"c3","s":"S","x":0.13,"y":20},{"p":"c3","s":"S","x":0.17,"y":36},{"p":"c3","s":"S","x":0.22,"y":54},{"p":"c3","s":"S","x":0.27,"y":70},{"p":"c3","s":"S","x":0.32,"y":84},{"p":"c3","s":"S","x":0.37,"y":96},{"p":"c3","s":"S","x":0.42,"y":99},{"p":"c3","s":"S","x":0.45,"y":94},{"p":"c3","s":"S","x":0.49,"y":99},{"p":"c3","s":"S","x":0.53,"y":98},{"p":"c3","s":"S","x":0.57,"y":90},{"p":"c3","s":"S","x":0.61,"y":83},{"p":"c3","s":"S","x":0.65,"y":70},{"p":"c3","s":"S","x":0.7,"y":57},{"p":"c3","s":"S","x":0.75,"y":46},{"p":"c3","s":"S","x":0.8,"y":36},{"p":"c3","s":"S","x":0.87,"y":23},{"p":"c3","s":"S","x":0.94,"y":12},{"p":"c3","s":"S","x":1.03,"y":6},{"p":"c3","s":"S","x":1.13,"y":3},{"p":"c3","s":"S","x":1.25,"y":1.5},{"p":"c3","s":"S","x":1.38,"y":1},{"p":"c3","s":"S","x":1.7,"y":0.5},{"p":"c3","s":"S","x":4,"y":0.3},
{"p":"c3","s":"C","x":0,"y":1},{"p":"c3","s":"C","x":0.04,"y":3},{"p":"c3","s":"C","x":0.08,"y":8},{"p":"c3","s":"C","x":0.13,"y":22},{"p":"c3","s":"C","x":0.17,"y":38},{"p":"c3","s":"C","x":0.22,"y":56},{"p":"c3","s":"C","x":0.27,"y":72},{"p":"c3","s":"C","x":0.32,"y":86},{"p":"c3","s":"C","x":0.36,"y":95},{"p":"c3","s":"C","x":0.4,"y":98},{"p":"c3","s":"C","x":0.44,"y":93},{"p":"c3","s":"C","x":0.48,"y":97},{"p":"c3","s":"C","x":0.52,"y":99},{"p":"c3","s":"C","x":0.56,"y":91},{"p":"c3","s":"C","x":0.6,"y":82},{"p":"c3","s":"C","x":0.65,"y":68},{"p":"c3","s":"C","x":0.7,"y":55},{"p":"c3","s":"C","x":0.75,"y":45},{"p":"c3","s":"C","x":0.8,"y":35},{"p":"c3","s":"C","x":0.87,"y":22},{"p":"c3","s":"C","x":0.94,"y":11},{"p":"c3","s":"C","x":1.03,"y":5.5},{"p":"c3","s":"C","x":1.13,"y":2.5},{"p":"c3","s":"C","x":1.25,"y":1.3},{"p":"c3","s":"C","x":1.38,"y":0.8},{"p":"c3","s":"C","x":1.7,"y":0.5},{"p":"c3","s":"C","x":4,"y":0.3},
{"p":"c4","s":"C","x":0,"y":0.3},{"p":"c4","s":"C","x":0.05,"y":1},{"p":"c4","s":"C","x":0.09,"y":4},{"p":"c4","s":"C","x":0.15,"y":14},{"p":"c4","s":"C","x":0.21,"y":30},{"p":"c4","s":"C","x":0.28,"y":50},{"p":"c4","s":"C","x":0.36,"y":70},{"p":"c4","s":"C","x":0.43,"y":88},{"p":"c4","s":"C","x":0.48,"y":97},{"p":"c4","s":"C","x":0.5,"y":100},{"p":"c4","s":"C","x":0.55,"y":97},{"p":"c4","s":"C","x":0.6,"y":92},{"p":"c4","s":"C","x":0.66,"y":91},{"p":"c4","s":"C","x":0.7,"y":97},{"p":"c4","s":"C","x":0.72,"y":100},{"p":"c4","s":"C","x":0.76,"y":95},{"p":"c4","s":"C","x":0.8,"y":88},{"p":"c4","s":"C","x":0.84,"y":83},{"p":"c4","s":"C","x":0.89,"y":62},{"p":"c4","s":"C","x":0.94,"y":43},{"p":"c4","s":"C","x":1,"y":26},{"p":"c4","s":"C","x":1.08,"y":12},{"p":"c4","s":"C","x":1.18,"y":7},{"p":"c4","s":"C","x":1.26,"y":5},{"p":"c4","s":"C","x":1.32,"y":5},{"p":"c4","s":"C","x":1.38,"y":6},{"p":"c4","s":"C","x":1.41,"y":7},{"p":"c4","s":"C","x":1.47,"y":5.5},{"p":"c4","s":"C","x":1.55,"y":4},{"p":"c4","s":"C","x":1.6,"y":3},{"p":"c4","s":"C","x":1.7,"y":2},{"p":"c4","s":"C","x":1.8,"y":1},{"p":"c4","s":"C","x":2,"y":0.5},{"p":"c4","s":"C","x":4,"y":0.3},
{"p":"c4","s":"S","x":0,"y":0.3},{"p":"c4","s":"S","x":0.2,"y":1},{"p":"c4","s":"S","x":0.3,"y":2},{"p":"c4","s":"S","x":0.36,"y":4},{"p":"c4","s":"S","x":0.43,"y":14},{"p":"c4","s":"S","x":0.5,"y":30},{"p":"c4","s":"S","x":0.55,"y":50},{"p":"c4","s":"S","x":0.6,"y":70},{"p":"c4","s":"S","x":0.65,"y":88},{"p":"c4","s":"S","x":0.7,"y":98},{"p":"c4","s":"S","x":0.74,"y":96},{"p":"c4","s":"S","x":0.79,"y":83},{"p":"c4","s":"S","x":0.84,"y":65},{"p":"c4","s":"S","x":0.89,"y":43},{"p":"c4","s":"S","x":0.94,"y":26},{"p":"c4","s":"S","x":0.99,"y":14},{"p":"c4","s":"S","x":1.06,"y":8},{"p":"c4","s":"S","x":1.13,"y":5},{"p":"c4","s":"S","x":1.25,"y":3.5},{"p":"c4","s":"S","x":1.37,"y":3},{"p":"c4","s":"S","x":1.45,"y":2.5},{"p":"c4","s":"S","x":1.56,"y":1},{"p":"c4","s":"S","x":1.8,"y":0.5},{"p":"c4","s":"S","x":4,"y":0.3}
]},
"data":{"name":"h"},
"spacing":20,
"vconcat":[
{"title":{"text":"Cell number ───►","orient":"left","anchor":"middle","offset":-14,"dx":26,"fontSize":15},
 "spacing":7,
 "vconcat":[
 {"hconcat":[
  {"width":134,"height":142,"title":{"text":"CD24","anchor":"end","frame":"group","dx":-16,"offset":-26},"transform":[{"filter":"datum.p=='a1'"}],
   "encoding":{"x":{"field":"x","type":"quantitative","scale":{"domain":[0,4],"nice":false,"zero":false},"axis":{"title":null,"values":[0,0.301,0.477,0.602,0.699,0.778,0.845,0.903,0.954,1,1.301,1.477,1.602,1.699,1.778,1.845,1.903,1.954,2,2.301,2.477,2.602,2.699,2.778,2.845,2.903,2.954,3,3.301,3.477,3.602,3.699,3.778,3.845,3.903,3.954,4],"labelExpr":"datum.value==0?'10⁰':datum.value==1?'10¹':datum.value==2?'10²':datum.value==3?'10³':datum.value==4?'10⁴':''","tickSize":{"condition":{"test":"datum.value%1==0","value":3},"value":1.5}}},
    "y":{"field":"y","type":"quantitative","scale":{"domain":[0,105],"nice":false},"axis":{"title":"A","titleX":-34,"titleY":-3,"titleAngle":0,"titleAlign":"left","titleBaseline":"top","titleFontSize":16,"titleFontWeight":"bold","titleColor":"#000","values":[0,10,20,30,40,50,60,70,80,90,100],"labelExpr":"datum.value%20==0?datum.label:''","tickSize":{"condition":{"test":"datum.value%20==0","value":2.5},"value":1.5}}}},
   "layer":[{"transform":[{"filter":"datum.s=='S'"}],"mark":{"type":"area","color":"#c9c9c9"}},{"mark":{"type":"line","color":"#1e1e1e","strokeWidth":1.1},"encoding":{"detail":{"field":"s"}}}]},
  {"width":134,"height":142,"title":{"text":"CD90","anchor":"end","frame":"group","dx":-7,"offset":-26},"transform":[{"filter":"datum.p=='a2'"}],
   "encoding":{"x":{"field":"x","type":"quantitative","scale":{"domain":[0,4],"nice":false,"zero":false},"axis":{"title":null,"values":[0,0.301,0.477,0.602,0.699,0.778,0.845,0.903,0.954,1,1.301,1.477,1.602,1.699,1.778,1.845,1.903,1.954,2,2.301,2.477,2.602,2.699,2.778,2.845,2.903,2.954,3,3.301,3.477,3.602,3.699,3.778,3.845,3.903,3.954,4],"labelExpr":"datum.value==0?'10⁰':datum.value==1?'10¹':datum.value==2?'10²':datum.value==3?'10³':datum.value==4?'10⁴':''","tickSize":{"condition":{"test":"datum.value%1==0","value":3},"value":1.5}}},
    "y":{"field":"y","type":"quantitative","scale":{"domain":[0,105],"nice":false},"axis":{"title":null,"values":[0,10,20,30,40,50,60,70,80,90,100],"labelExpr":"datum.value%20==0?datum.label:''","tickSize":{"condition":{"test":"datum.value%20==0","value":2.5},"value":1.5}}}},
   "layer":[{"transform":[{"filter":"datum.s=='S'"}],"mark":{"type":"area","color":"#c9c9c9"}},{"mark":{"type":"line","color":"#1e1e1e","strokeWidth":1.1},"encoding":{"detail":{"field":"s"}}}]},
  {"width":134,"height":142,"title":{"text":"CD44","anchor":"end","frame":"group","dx":-17,"offset":-26},"transform":[{"filter":"datum.p=='a3'"}],
   "encoding":{"x":{"field":"x","type":"quantitative","scale":{"domain":[0,4],"nice":false,"zero":false},"axis":{"title":null,"values":[0,0.301,0.477,0.602,0.699,0.778,0.845,0.903,0.954,1,1.301,1.477,1.602,1.699,1.778,1.845,1.903,1.954,2,2.301,2.477,2.602,2.699,2.778,2.845,2.903,2.954,3,3.301,3.477,3.602,3.699,3.778,3.845,3.903,3.954,4],"labelExpr":"datum.value==0?'10⁰':datum.value==1?'10¹':datum.value==2?'10²':datum.value==3?'10³':datum.value==4?'10⁴':''","tickSize":{"condition":{"test":"datum.value%1==0","value":3},"value":1.5}}},
    "y":{"field":"y","type":"quantitative","scale":{"domain":[0,105],"nice":false},"axis":{"title":null,"values":[0,10,20,30,40,50,60,70,80,90,100],"labelExpr":"datum.value%20==0?datum.label:''","tickSize":{"condition":{"test":"datum.value%20==0","value":2.5},"value":1.5}}}},
   "layer":[{"transform":[{"filter":"datum.s=='S'"}],"mark":{"type":"area","color":"#c9c9c9"}},{"mark":{"type":"line","color":"#1e1e1e","strokeWidth":1.1},"encoding":{"detail":{"field":"s"}}}]},
  {"width":134,"height":142,"title":{"text":"CDCP1","anchor":"end","frame":"group","dx":-6,"offset":-26},"transform":[{"filter":"datum.p=='a4'"}],
   "encoding":{"x":{"field":"x","type":"quantitative","scale":{"domain":[0,4],"nice":false,"zero":false},"axis":{"title":null,"values":[0,0.301,0.477,0.602,0.699,0.778,0.845,0.903,0.954,1,1.301,1.477,1.602,1.699,1.778,1.845,1.903,1.954,2,2.301,2.477,2.602,2.699,2.778,2.845,2.903,2.954,3,3.301,3.477,3.602,3.699,3.778,3.845,3.903,3.954,4],"labelExpr":"datum.value==0?'10⁰':datum.value==1?'10¹':datum.value==2?'10²':datum.value==3?'10³':datum.value==4?'10⁴':''","tickSize":{"condition":{"test":"datum.value%1==0","value":3},"value":1.5}}},
    "y":{"field":"y","type":"quantitative","scale":{"domain":[0,105],"nice":false},"axis":{"title":null,"values":[0,10,20,30,40,50,60,70,80,90,100],"labelExpr":"datum.value%20==0?datum.label:''","tickSize":{"condition":{"test":"datum.value%20==0","value":2.5},"value":1.5}}}},
   "layer":[{"transform":[{"filter":"datum.s=='S'"}],"mark":{"type":"area","color":"#c9c9c9"}},{"mark":{"type":"line","color":"#1e1e1e","strokeWidth":1.1},"encoding":{"detail":{"field":"s"}}}]}
 ],"spacing":35,"bounds":"flush"},
 {"title":{"text":"Fluorescence Intensity  ───►","orient":"bottom","anchor":"start","dx":250,"offset":10},
  "hconcat":[
  {"width":134,"height":142,"title":{"text":"CD133","anchor":"end","frame":"group","dx":-9,"offset":-26},"transform":[{"filter":"datum.p=='a5'"}],
   "encoding":{"x":{"field":"x","type":"quantitative","scale":{"domain":[0,4],"nice":false,"zero":false},"axis":{"title":null,"values":[0,0.301,0.477,0.602,0.699,0.778,0.845,0.903,0.954,1,1.301,1.477,1.602,1.699,1.778,1.845,1.903,1.954,2,2.301,2.477,2.602,2.699,2.778,2.845,2.903,2.954,3,3.301,3.477,3.602,3.699,3.778,3.845,3.903,3.954,4],"labelExpr":"datum.value==0?'10⁰':datum.value==1?'10¹':datum.value==2?'10²':datum.value==3?'10³':datum.value==4?'10⁴':''","tickSize":{"condition":{"test":"datum.value%1==0","value":3},"value":1.5}}},
    "y":{"field":"y","type":"quantitative","scale":{"domain":[0,105],"nice":false},"axis":{"title":"A","titleOpacity":0,"titleX":-34,"titleY":-3,"titleAngle":0,"titleAlign":"left","titleBaseline":"top","titleFontSize":16,"titleFontWeight":"bold","values":[0,10,20,30,40,50,60,70,80,90,100],"labelExpr":"datum.value%20==0?datum.label:''","tickSize":{"condition":{"test":"datum.value%20==0","value":2.5},"value":1.5}}}},
   "layer":[{"transform":[{"filter":"datum.s=='S'"}],"mark":{"type":"area","color":"#c9c9c9"}},{"mark":{"type":"line","color":"#1e1e1e","strokeWidth":1.1},"encoding":{"detail":{"field":"s"}}}]},
  {"width":134,"height":142,"title":{"text":"MDR1","anchor":"end","frame":"group","dx":-9,"offset":-26},"transform":[{"filter":"datum.p=='a6'"}],
   "encoding":{"x":{"field":"x","type":"quantitative","scale":{"domain":[0,4],"nice":false,"zero":false},"axis":{"title":null,"values":[0,0.301,0.477,0.602,0.699,0.778,0.845,0.903,0.954,1,1.301,1.477,1.602,1.699,1.778,1.845,1.903,1.954,2,2.301,2.477,2.602,2.699,2.778,2.845,2.903,2.954,3,3.301,3.477,3.602,3.699,3.778,3.845,3.903,3.954,4],"labelExpr":"datum.value==0?'10⁰':datum.value==1?'10¹':datum.value==2?'10²':datum.value==3?'10³':datum.value==4?'10⁴':''","tickSize":{"condition":{"test":"datum.value%1==0","value":3},"value":1.5}}},
    "y":{"field":"y","type":"quantitative","scale":{"domain":[0,105],"nice":false},"axis":{"title":null,"values":[0,10,20,30,40,50,60,70,80,90,100],"labelExpr":"datum.value%20==0?datum.label:''","tickSize":{"condition":{"test":"datum.value%20==0","value":2.5},"value":1.5}}}},
   "layer":[{"transform":[{"filter":"datum.s=='S'"}],"mark":{"type":"area","color":"#c9c9c9"}},{"mark":{"type":"line","color":"#1e1e1e","strokeWidth":1.1},"encoding":{"detail":{"field":"s"}}}]},
  {"width":134,"height":142,"title":{"text":"ABCG2","anchor":"end","frame":"group","dx":-9,"offset":-26},"transform":[{"filter":"datum.p=='a7'"}],
   "encoding":{"x":{"field":"x","type":"quantitative","scale":{"domain":[0,4],"nice":false,"zero":false},"axis":{"title":null,"values":[0,0.301,0.477,0.602,0.699,0.778,0.845,0.903,0.954,1,1.301,1.477,1.602,1.699,1.778,1.845,1.903,1.954,2,2.301,2.477,2.602,2.699,2.778,2.845,2.903,2.954,3,3.301,3.477,3.602,3.699,3.778,3.845,3.903,3.954,4],"labelExpr":"datum.value==0?'10⁰':datum.value==1?'10¹':datum.value==2?'10²':datum.value==3?'10³':datum.value==4?'10⁴':''","tickSize":{"condition":{"test":"datum.value%1==0","value":3},"value":1.5}}},
    "y":{"field":"y","type":"quantitative","scale":{"domain":[0,105],"nice":false},"axis":{"title":null,"values":[0,10,20,30,40,50,60,70,80,90,100],"labelExpr":"datum.value%20==0?datum.label:''","tickSize":{"condition":{"test":"datum.value%20==0","value":2.5},"value":1.5}}}},
   "layer":[{"transform":[{"filter":"datum.s=='S'"}],"mark":{"type":"area","color":"#c9c9c9"}},{"mark":{"type":"line","color":"#1e1e1e","strokeWidth":1.1},"encoding":{"detail":{"field":"s"}}}]},
  {"width":134,"height":142,"title":{"text":"CD13","anchor":"end","frame":"group","dx":-16,"offset":-26},"transform":[{"filter":"datum.p=='a8'"}],
   "encoding":{"x":{"field":"x","type":"quantitative","scale":{"domain":[0,4],"nice":false,"zero":false},"axis":{"title":null,"values":[0,0.301,0.477,0.602,0.699,0.778,0.845,0.903,0.954,1,1.301,1.477,1.602,1.699,1.778,1.845,1.903,1.954,2,2.301,2.477,2.602,2.699,2.778,2.845,2.903,2.954,3,3.301,3.477,3.602,3.699,3.778,3.845,3.903,3.954,4],"labelExpr":"datum.value==0?'10⁰':datum.value==1?'10¹':datum.value==2?'10²':datum.value==3?'10³':datum.value==4?'10⁴':''","tickSize":{"condition":{"test":"datum.value%1==0","value":3},"value":1.5}}},
    "y":{"field":"y","type":"quantitative","scale":{"domain":[0,105],"nice":false},"axis":{"title":null,"values":[0,10,20,30,40,50,60,70,80,90,100],"labelExpr":"datum.value%20==0?datum.label:''","tickSize":{"condition":{"test":"datum.value%20==0","value":2.5},"value":1.5}}}},
   "layer":[{"transform":[{"filter":"datum.s=='S'"}],"mark":{"type":"area","color":"#c9c9c9"}},{"mark":{"type":"line","color":"#1e1e1e","strokeWidth":1.1},"encoding":{"detail":{"field":"s"}}}]}
 ],"spacing":35,"bounds":"flush"}
 ]},
{"spacing":7,
 "vconcat":[
 {"title":{"text":"Cell number ───►","orient":"left","anchor":"middle","offset":-14,"dx":24,"fontSize":15},
  "spacing":17,
  "vconcat":[
  {"hconcat":[
   {"width":136,"height":134,"title":{"text":"HSC-58","anchor":"end","frame":"group","dx":-15,"offset":-26},"transform":[{"filter":"datum.p=='b1'"}],
    "encoding":{"x":{"field":"x","type":"quantitative","scale":{"domain":[0,4],"nice":false,"zero":false},"axis":{"title":null,"values":[0,0.301,0.477,0.602,0.699,0.778,0.845,0.903,0.954,1,1.301,1.477,1.602,1.699,1.778,1.845,1.903,1.954,2,2.301,2.477,2.602,2.699,2.778,2.845,2.903,2.954,3,3.301,3.477,3.602,3.699,3.778,3.845,3.903,3.954,4],"labelExpr":"datum.value==0?'10⁰':datum.value==1?'10¹':datum.value==2?'10²':datum.value==3?'10³':datum.value==4?'10⁴':''","tickSize":{"condition":{"test":"datum.value%1==0","value":3},"value":1.5}}},
     "y":{"field":"y","type":"quantitative","scale":{"domain":[0,105],"nice":false},"axis":{"title":"B","titleX":-36,"titleY":-6,"titleAngle":0,"titleAlign":"left","titleBaseline":"top","titleFontSize":16,"titleFontWeight":"bold","titleColor":"#000","values":[0,10,20,30,40,50,60,70,80,90,100],"labelExpr":"datum.value%20==0?datum.label:''","tickSize":{"condition":{"test":"datum.value%20==0","value":2.5},"value":1.5}}}},
    "layer":[{"transform":[{"filter":"datum.s=='S'"}],"mark":{"type":"area","color":"#c9c9c9"}},{"mark":{"type":"line","color":"#1e1e1e","strokeWidth":1.1},"encoding":{"detail":{"field":"s"}}}]},
   {"width":136,"height":134,"title":{"text":"58As1","anchor":"end","frame":"group","dx":-11,"offset":-26},"transform":[{"filter":"datum.p=='b2'"}],
    "encoding":{"x":{"field":"x","type":"quantitative","scale":{"domain":[0,4],"nice":false,"zero":false},"axis":{"title":null,"values":[0,0.301,0.477,0.602,0.699,0.778,0.845,0.903,0.954,1,1.301,1.477,1.602,1.699,1.778,1.845,1.903,1.954,2,2.301,2.477,2.602,2.699,2.778,2.845,2.903,2.954,3,3.301,3.477,3.602,3.699,3.778,3.845,3.903,3.954,4],"labelExpr":"datum.value==0?'10⁰':datum.value==1?'10¹':datum.value==2?'10²':datum.value==3?'10³':datum.value==4?'10⁴':''","tickSize":{"condition":{"test":"datum.value%1==0","value":3},"value":1.5}}},
     "y":{"field":"y","type":"quantitative","scale":{"domain":[0,105],"nice":false},"axis":{"title":null,"values":[0,10,20,30,40,50,60,70,80,90,100],"labelExpr":"datum.value%20==0?datum.label:''","tickSize":{"condition":{"test":"datum.value%20==0","value":2.5},"value":1.5}}}},
    "layer":[{"transform":[{"filter":"datum.s=='S'"}],"mark":{"type":"area","color":"#c9c9c9"}},{"mark":{"type":"line","color":"#1e1e1e","strokeWidth":1.1},"encoding":{"detail":{"field":"s"}}}]},
   {"width":136,"height":134,"title":{"text":"HSC-44PE","anchor":"end","frame":"group","dx":-10,"offset":-26},"transform":[{"filter":"datum.p=='b3'"}],
    "encoding":{"x":{"field":"x","type":"quantitative","scale":{"domain":[0,4],"nice":false,"zero":false},"axis":{"title":null,"values":[0,0.301,0.477,0.602,0.699,0.778,0.845,0.903,0.954,1,1.301,1.477,1.602,1.699,1.778,1.845,1.903,1.954,2,2.301,2.477,2.602,2.699,2.778,2.845,2.903,2.954,3,3.301,3.477,3.602,3.699,3.778,3.845,3.903,3.954,4],"labelExpr":"datum.value==0?'10⁰':datum.value==1?'10¹':datum.value==2?'10²':datum.value==3?'10³':datum.value==4?'10⁴':''","tickSize":{"condition":{"test":"datum.value%1==0","value":3},"value":1.5}}},
     "y":{"field":"y","type":"quantitative","scale":{"domain":[0,105],"nice":false},"axis":{"title":null,"values":[0,10,20,30,40,50,60,70,80,90,100],"labelExpr":"datum.value%20==0?datum.label:''","tickSize":{"condition":{"test":"datum.value%20==0","value":2.5},"value":1.5}}}},
    "layer":[{"transform":[{"filter":"datum.s=='S'"}],"mark":{"type":"area","color":"#c9c9c9"}},{"mark":{"type":"line","color":"#1e1e1e","strokeWidth":1.1},"encoding":{"detail":{"field":"s"}}}]},
   {"width":136,"height":134,"title":{"text":"44As3","anchor":"end","frame":"group","dx":-12,"offset":-26},"transform":[{"filter":"datum.p=='b4'"}],
    "encoding":{"x":{"field":"x","type":"quantitative","scale":{"domain":[0,4],"nice":false,"zero":false},"axis":{"title":null,"values":[0,0.301,0.477,0.602,0.699,0.778,0.845,0.903,0.954,1,1.301,1.477,1.602,1.699,1.778,1.845,1.903,1.954,2,2.301,2.477,2.602,2.699,2.778,2.845,2.903,2.954,3,3.301,3.477,3.602,3.699,3.778,3.845,3.903,3.954,4],"labelExpr":"datum.value==0?'10⁰':datum.value==1?'10¹':datum.value==2?'10²':datum.value==3?'10³':datum.value==4?'10⁴':''","tickSize":{"condition":{"test":"datum.value%1==0","value":3},"value":1.5}}},
     "y":{"field":"y","type":"quantitative","scale":{"domain":[0,105],"nice":false},"axis":{"title":null,"values":[0,10,20,30,40,50,60,70,80,90,100],"labelExpr":"datum.value%20==0?datum.label:''","tickSize":{"condition":{"test":"datum.value%20==0","value":2.5},"value":1.5}}}},
    "layer":[{"transform":[{"filter":"datum.s=='S'"}],"mark":{"type":"area","color":"#c9c9c9"}},{"mark":{"type":"line","color":"#1e1e1e","strokeWidth":1.1},"encoding":{"detail":{"field":"s"}}}]}
  ],"spacing":33,"bounds":"flush"},
  {"title":{"text":"Fluorescence Intensity  ───►","orient":"bottom","anchor":"start","dx":250,"offset":10},
   "hconcat":[
   {"width":136,"height":135,"title":{"text":"KATO III","anchor":"end","frame":"group","dx":-10,"offset":-28},"transform":[{"filter":"datum.p=='b5'"}],
    "encoding":{"x":{"field":"x","type":"quantitative","scale":{"domain":[0,4],"nice":false,"zero":false},"axis":{"title":null,"values":[0,0.301,0.477,0.602,0.699,0.778,0.845,0.903,0.954,1,1.301,1.477,1.602,1.699,1.778,1.845,1.903,1.954,2,2.301,2.477,2.602,2.699,2.778,2.845,2.903,2.954,3,3.301,3.477,3.602,3.699,3.778,3.845,3.903,3.954,4],"labelExpr":"datum.value==0?'10⁰':datum.value==1?'10¹':datum.value==2?'10²':datum.value==3?'10³':datum.value==4?'10⁴':''","tickSize":{"condition":{"test":"datum.value%1==0","value":3},"value":1.5}}},
     "y":{"field":"y","type":"quantitative","scale":{"domain":[0,105],"nice":false},"axis":{"title":"B","titleOpacity":0,"titleX":-36,"titleY":-6,"titleAngle":0,"titleAlign":"left","titleBaseline":"top","titleFontSize":16,"titleFontWeight":"bold","values":[0,10,20,30,40,50,60,70,80,90,100],"labelExpr":"datum.value%20==0?datum.label:''","tickSize":{"condition":{"test":"datum.value%20==0","value":2.5},"value":1.5}}}},
    "layer":[{"transform":[{"filter":"datum.s=='S'"}],"mark":{"type":"area","color":"#c9c9c9"}},{"mark":{"type":"line","color":"#1e1e1e","strokeWidth":1.1},"encoding":{"detail":{"field":"s"}}}]},
   {"width":136,"height":135,"title":{"text":"MKN-7","anchor":"end","frame":"group","dx":-19,"offset":-28},"transform":[{"filter":"datum.p=='b6'"}],
    "encoding":{"x":{"field":"x","type":"quantitative","scale":{"domain":[0,4],"nice":false,"zero":false},"axis":{"title":null,"values":[0,0.301,0.477,0.602,0.699,0.778,0.845,0.903,0.954,1,1.301,1.477,1.602,1.699,1.778,1.845,1.903,1.954,2,2.301,2.477,2.602,2.699,2.778,2.845,2.903,2.954,3,3.301,3.477,3.602,3.699,3.778,3.845,3.903,3.954,4],"labelExpr":"datum.value==0?'10⁰':datum.value==1?'10¹':datum.value==2?'10²':datum.value==3?'10³':datum.value==4?'10⁴':''","tickSize":{"condition":{"test":"datum.value%1==0","value":3},"value":1.5}}},
     "y":{"field":"y","type":"quantitative","scale":{"domain":[0,105],"nice":false},"axis":{"title":null,"values":[0,10,20,30,40,50,60,70,80,90,100],"labelExpr":"datum.value%20==0?datum.label:''","tickSize":{"condition":{"test":"datum.value%20==0","value":2.5},"value":1.5}}}},
    "layer":[{"transform":[{"filter":"datum.s=='S'"}],"mark":{"type":"area","color":"#c9c9c9"}},{"mark":{"type":"line","color":"#1e1e1e","strokeWidth":1.1},"encoding":{"detail":{"field":"s"}}}]},
   {"width":136,"height":135,"title":{"text":"MKN-45","anchor":"end","frame":"group","dx":-4,"offset":-28},"transform":[{"filter":"datum.p=='b7'"}],
    "encoding":{"x":{"field":"x","type":"quantitative","scale":{"domain":[0,4],"nice":false,"zero":false},"axis":{"title":null,"values":[0,0.301,0.477,0.602,0.699,0.778,0.845,0.903,0.954,1,1.301,1.477,1.602,1.699,1.778,1.845,1.903,1.954,2,2.301,2.477,2.602,2.699,2.778,2.845,2.903,2.954,3,3.301,3.477,3.602,3.699,3.778,3.845,3.903,3.954,4],"labelExpr":"datum.value==0?'10⁰':datum.value==1?'10¹':datum.value==2?'10²':datum.value==3?'10³':datum.value==4?'10⁴':''","tickSize":{"condition":{"test":"datum.value%1==0","value":3},"value":1.5}}},
     "y":{"field":"y","type":"quantitative","scale":{"domain":[0,105],"nice":false},"axis":{"title":null,"values":[0,10,20,30,40,50,60,70,80,90,100],"labelExpr":"datum.value%20==0?datum.label:''","tickSize":{"condition":{"test":"datum.value%20==0","value":2.5},"value":1.5}}}},
    "layer":[{"transform":[{"filter":"datum.s=='S'"}],"mark":{"type":"area","color":"#c9c9c9"}},{"mark":{"type":"line","color":"#1e1e1e","strokeWidth":1.1},"encoding":{"detail":{"field":"s"}}}]}
  ],"spacing":33,"bounds":"flush"}
  ]},
 {"title":{"text":"Cell number ───►","orient":"left","anchor":"middle","offset":-14,"dx":19,"fontSize":15},
  "vconcat":[
  {"title":{"text":"Fluorescence Intensity  ───►","orient":"bottom","anchor":"start","dx":276,"offset":10},
   "hconcat":[
   {"width":139,"height":140,"title":{"text":"HSC-58","anchor":"end","frame":"group","dx":-12,"offset":-30},"transform":[{"filter":"datum.p=='c1'"}],
    "encoding":{"x":{"field":"x","type":"quantitative","scale":{"domain":[0,4],"nice":false,"zero":false},"axis":{"title":null,"values":[0,0.301,0.477,0.602,0.699,0.778,0.845,0.903,0.954,1,1.301,1.477,1.602,1.699,1.778,1.845,1.903,1.954,2,2.301,2.477,2.602,2.699,2.778,2.845,2.903,2.954,3,3.301,3.477,3.602,3.699,3.778,3.845,3.903,3.954,4],"labelExpr":"datum.value==0?'10⁰':datum.value==1?'10¹':datum.value==2?'10²':datum.value==3?'10³':datum.value==4?'10⁴':''","tickSize":{"condition":{"test":"datum.value%1==0","value":3},"value":1.5}}},
     "y":{"field":"y","type":"quantitative","scale":{"domain":[0,105],"nice":false},"axis":{"title":"C","titleX":-34,"titleY":-9,"titleAngle":0,"titleAlign":"left","titleBaseline":"top","titleFontSize":16,"titleFontWeight":"bold","titleColor":"#000","values":[0,10,20,30,40,50,60,70,80,90,100],"labelExpr":"datum.value%20==0?datum.label:''","tickSize":{"condition":{"test":"datum.value%20==0","value":2.5},"value":1.5}}}},
    "layer":[{"transform":[{"filter":"datum.s=='S'"}],"mark":{"type":"area","color":"#c9c9c9"}},{"mark":{"type":"line","color":"#333","strokeWidth":1.3},"encoding":{"detail":{"field":"s"}}}]},
   {"width":139,"height":140,"title":{"text":"58As1","anchor":"end","frame":"group","dx":-11,"offset":-30},"transform":[{"filter":"datum.p=='c2'"}],
    "encoding":{"x":{"field":"x","type":"quantitative","scale":{"domain":[0,4],"nice":false,"zero":false},"axis":{"title":null,"values":[0,0.301,0.477,0.602,0.699,0.778,0.845,0.903,0.954,1,1.301,1.477,1.602,1.699,1.778,1.845,1.903,1.954,2,2.301,2.477,2.602,2.699,2.778,2.845,2.903,2.954,3,3.301,3.477,3.602,3.699,3.778,3.845,3.903,3.954,4],"labelExpr":"datum.value==0?'10⁰':datum.value==1?'10¹':datum.value==2?'10²':datum.value==3?'10³':datum.value==4?'10⁴':''","tickSize":{"condition":{"test":"datum.value%1==0","value":3},"value":1.5}}},
     "y":{"field":"y","type":"quantitative","scale":{"domain":[0,105],"nice":false},"axis":{"title":null,"values":[0,10,20,30,40,50,60,70,80,90,100],"labelExpr":"datum.value%20==0?datum.label:''","tickSize":{"condition":{"test":"datum.value%20==0","value":2.5},"value":1.5}}}},
    "layer":[{"transform":[{"filter":"datum.s=='S'"}],"mark":{"type":"area","color":"#c9c9c9"}},{"mark":{"type":"line","color":"#333","strokeWidth":1.3},"encoding":{"detail":{"field":"s"}}}]},
   {"width":139,"height":140,"title":{"text":"HSC-44PE","anchor":"end","frame":"group","dx":-8,"offset":-30},"transform":[{"filter":"datum.p=='c3'"}],
    "encoding":{"x":{"field":"x","type":"quantitative","scale":{"domain":[0,4],"nice":false,"zero":false},"axis":{"title":null,"values":[0,0.301,0.477,0.602,0.699,0.778,0.845,0.903,0.954,1,1.301,1.477,1.602,1.699,1.778,1.845,1.903,1.954,2,2.301,2.477,2.602,2.699,2.778,2.845,2.903,2.954,3,3.301,3.477,3.602,3.699,3.778,3.845,3.903,3.954,4],"labelExpr":"datum.value==0?'10⁰':datum.value==1?'10¹':datum.value==2?'10²':datum.value==3?'10³':datum.value==4?'10⁴':''","tickSize":{"condition":{"test":"datum.value%1==0","value":3},"value":1.5}}},
     "y":{"field":"y","type":"quantitative","scale":{"domain":[0,105],"nice":false},"axis":{"title":null,"values":[0,10,20,30,40,50,60,70,80,90,100],"labelExpr":"datum.value%20==0?datum.label:''","tickSize":{"condition":{"test":"datum.value%20==0","value":2.5},"value":1.5}}}},
    "layer":[{"transform":[{"filter":"datum.s=='S'"}],"mark":{"type":"area","color":"#c9c9c9"}},{"mark":{"type":"line","color":"#333","strokeWidth":1.3},"encoding":{"detail":{"field":"s"}}}]},
   {"width":139,"height":140,"title":{"text":"44As3","anchor":"end","frame":"group","dx":-12,"offset":-30},"transform":[{"filter":"datum.p=='c4'"}],
    "encoding":{"x":{"field":"x","type":"quantitative","scale":{"domain":[0,4],"nice":false,"zero":false},"axis":{"title":null,"values":[0,0.301,0.477,0.602,0.699,0.778,0.845,0.903,0.954,1,1.301,1.477,1.602,1.699,1.778,1.845,1.903,1.954,2,2.301,2.477,2.602,2.699,2.778,2.845,2.903,2.954,3,3.301,3.477,3.602,3.699,3.778,3.845,3.903,3.954,4],"labelExpr":"datum.value==0?'10⁰':datum.value==1?'10¹':datum.value==2?'10²':datum.value==3?'10³':datum.value==4?'10⁴':''","tickSize":{"condition":{"test":"datum.value%1==0","value":3},"value":1.5}}},
     "y":{"field":"y","type":"quantitative","scale":{"domain":[0,105],"nice":false},"axis":{"title":null,"values":[0,10,20,30,40,50,60,70,80,90,100],"labelExpr":"datum.value%20==0?datum.label:''","tickSize":{"condition":{"test":"datum.value%20==0","value":2.5},"value":1.5}}}},
    "layer":[{"transform":[{"filter":"datum.s=='S'"}],"mark":{"type":"area","color":"#c9c9c9"}},{"mark":{"type":"line","color":"#333","strokeWidth":1.3},"encoding":{"detail":{"field":"s"}}}]}
  ],"spacing":29,"bounds":"flush"}
  ]}
 ]}
]
}
